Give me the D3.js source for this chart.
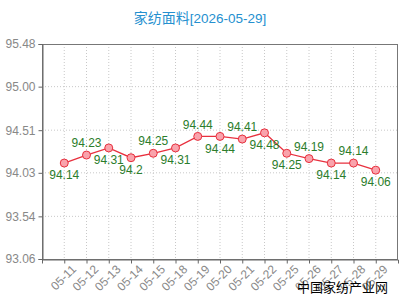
<!DOCTYPE html>
<html>
<head>
<meta charset="utf-8">
<script src="https://cdn.jsdelivr.net/npm/d3@7"></script>
<style>
  body { margin: 0; background: #fff; }
  svg { display: block; }
</style>
</head>
<body>
<div id="chart"></div>
<script>
// data
const dates = ['05-11', '05-12', '05-13', '05-14', '05-15', '05-18', '05-19', '05-20',
  '05-21', '05-22', '05-25', '05-26', '05-27', '05-28', '05-29'];
const prices = [94.14, 94.23, 94.31, 94.2, 94.25, 94.31, 94.44, 94.44,
  94.41, 94.48, 94.25, 94.19, 94.14, 94.14, 94.06];
const labelTexts = ['94.14', '94.23', '94.31', '94.2', '94.25', '94.31', '94.44', '94.44',
  '94.41', '94.48', '94.25', '94.19', '94.14', '94.14', '94.06'];
// 1 = label above the point, -1 = below
const labelSide = [-1, 1, -1, -1, 1, -1, 1, -1, 1, -1, -1, 1, -1, 1, -1];
const yTicks = [93.06, 93.54, 94.03, 94.51, 95.00, 95.48];
const yTickLabels = ['93.06', '93.54', '94.03', '94.51', '95.00', '95.48'];
const titleName = '家纺面料';
const titleDate = '[2026-05-29]';
const watermark = '中国家纺产业网';

const width = 400, height = 300;
const margin = { top: 44, right: 2, bottom: 41, left: 42 };
const innerW = width - margin.left - margin.right;
const innerH = height - margin.top - margin.bottom;

const svg = d3.select('#chart').append('svg')
  .attr('width', width)
  .attr('height', height);

const title = svg.append('text')
  .attr('x', 200)
  .attr('y', 23)
  .attr('text-anchor', 'middle')
  .attr('fill', '#2590cf');
title.append('tspan')
  .style('font-family', '"Noto Sans CJK SC", sans-serif')
  .style('font-size', '14px')
  .text(titleName);
title.append('tspan')
  .style('font-family', '"Liberation Sans", Arial, sans-serif')
  .style('font-size', '13.5px')
  .text(titleDate);

const g = svg.append('g').attr('transform', `translate(${margin.left},${margin.top})`);

const x = d3.scalePoint().domain(dates).range([0, innerW]).padding(1);
const y = d3.scaleLinear().domain([93.06, 95.48]).range([innerH, 0]);

// grid
g.selectAll('line.vgrid').data(dates).enter().append('line')
  .attr('class', 'vgrid')
  .attr('x1', d => x(d)).attr('x2', d => x(d))
  .attr('y1', 0).attr('y2', innerH)
  .attr('stroke', '#c8c8c8')
  .attr('stroke-dasharray', '1,2');
g.selectAll('line.hgrid').data(yTicks.slice(1, -1)).enter().append('line')
  .attr('class', 'hgrid')
  .attr('x1', 0).attr('x2', innerW)
  .attr('y1', d => y(d)).attr('y2', d => y(d))
  .attr('stroke', '#c8c8c8')
  .attr('stroke-dasharray', '1,2');

// frame
g.append('rect')
  .attr('x', 0.5).attr('y', 0.5)
  .attr('width', innerW - 1).attr('height', innerH)
  .attr('fill', 'none')
  .attr('stroke', '#777');

// y axis
const yAxis = d3.axisLeft(y).tickValues(yTicks).tickSize(4)
  .tickFormat((d, i) => yTickLabels[i]);
const ya = g.append('g').attr('transform', 'translate(0.5,0)').call(yAxis);
ya.select('.domain').attr('stroke', '#666');
ya.selectAll('line').attr('stroke', '#666');
ya.selectAll('text')
  .attr('fill', '#888')
  .style('font-family', '"Liberation Sans", Arial, sans-serif')
  .style('font-size', '12px');

// x axis
const xAxis = d3.axisBottom(x).tickSize(4);
const xa = g.append('g').attr('transform', `translate(0,${innerH + 0.5})`).call(xAxis);
xa.select('.domain').attr('stroke', '#666');
xa.selectAll('line').attr('stroke', '#666');
xa.selectAll('text')
  .attr('fill', '#888')
  .style('font-family', '"Liberation Sans", Arial, sans-serif')
  .style('font-size', '12px')
  .attr('text-anchor', 'end')
  .attr('y', 4)
  .attr('dx', '0.1em')
  .attr('dy', '1em')
  .attr('transform', 'rotate(-45)');

// line
const line = d3.line().x((d, i) => x(dates[i])).y(d => y(d));
g.append('path')
  .datum(prices)
  .attr('fill', 'none')
  .attr('stroke', '#e8303e')
  .attr('stroke-width', 1.3)
  .attr('d', line);

g.selectAll('circle.pt').data(prices).enter().append('circle')
  .attr('class', 'pt')
  .attr('cx', (d, i) => x(dates[i]))
  .attr('cy', d => y(d))
  .attr('r', 4)
  .attr('fill', '#f9a3ac')
  .attr('stroke', '#e8303e')
  .attr('stroke-width', 1);

g.selectAll('text.lbl').data(prices).enter().append('text')
  .attr('class', 'lbl')
  .attr('x', (d, i) => x(dates[i]))
  .attr('y', (d, i) => y(d) - labelSide[i] * 12)
  .attr('dy', '0.35em')
  .attr('text-anchor', 'middle')
  .attr('fill', '#2b7d2b')
  .style('font-family', '"Liberation Sans", Arial, sans-serif')
  .style('font-size', '12px')
  .text((d, i) => labelTexts[i]);

svg.append('text')
  .attr('x', 388)
  .attr('y', 292)
  .attr('text-anchor', 'end')
  .attr('fill', '#000')
  .style('font-family', '"Noto Sans CJK SC", sans-serif')
  .style('font-size', '13px')
  .text(watermark);
</script>
</body>
</html>
